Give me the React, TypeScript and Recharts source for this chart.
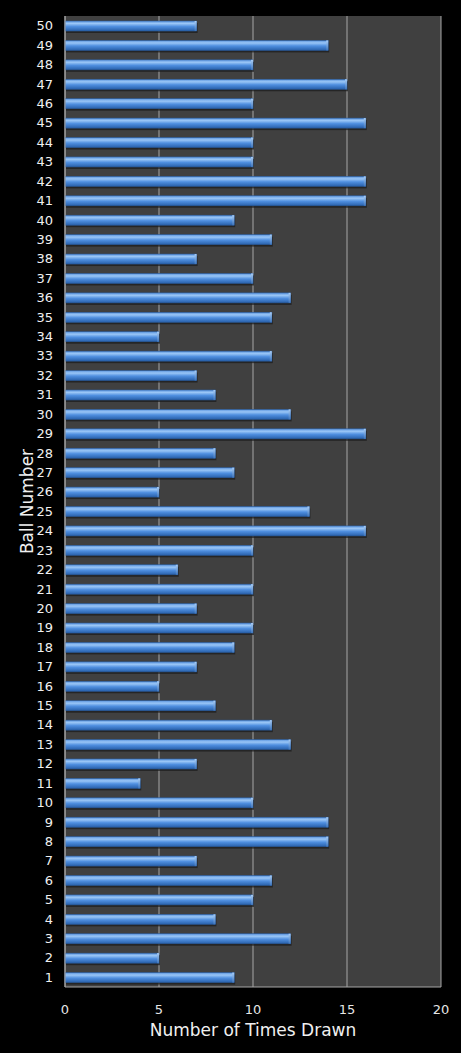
import { BarChart, Bar, XAxis, YAxis, CartesianGrid, Label } from 'recharts';

// Ball numbers 1..50 and how many times each was drawn
const balls = [
  1, 2, 3, 4, 5, 6, 7, 8, 9, 10, 11, 12, 13, 14, 15, 16, 17, 18, 19, 20, 21, 22, 23, 24, 25,
  26, 27, 28, 29, 30, 31, 32, 33, 34, 35, 36, 37, 38, 39, 40, 41, 42, 43, 44, 45, 46, 47, 48,
  49, 50,
];
const timesDrawn = [
  9, 5, 12, 8, 10, 11, 7, 14, 14, 10, 4, 7, 12, 11, 8, 5, 7, 9, 10, 7, 10, 6, 10, 16, 13, 5, 9,
  8, 16, 12, 8, 7, 11, 5, 11, 12, 10, 7, 11, 9, 16, 16, 10, 10, 16, 10, 15, 10, 14, 7,
];
const xTicks = [0, 5, 10, 15, 20];

const chartData = balls.map((b, i) => ({ ball: String(b), count: timesDrawn[i] }));

const font = '"DejaVu Sans", Verdana, sans-serif';

function TubeBar(props: any) {
  const { x, y, width, height } = props;
  if (!width || width <= 0) return null;
  return (
    <g>
      <rect x={x + 1} y={y + 2} width={width} height={height} fill="#1a1a1a" opacity={0.7} />
      <rect
        x={x}
        y={y}
        width={width}
        height={height}
        fill="url(#tube)"
        stroke="#2a5a99"
        strokeWidth={0.6}
      />
      <rect x={x + width - 2} y={y} width={2} height={height} fill="url(#cap)" />
    </g>
  );
}

export default function App() {
  return (
    <div style={{ position: 'absolute', left: 0, top: 0, width: 461, height: 1053, background: '#000' }}>
      <BarChart
        width={461}
        height={1053}
        data={chartData}
        layout="vertical"
        margin={{ top: 16, right: 20, bottom: 36, left: 0 }}
        barSize={10}
      >
        <defs>
          <linearGradient id="tube" x1="0" y1="0" x2="0" y2="1">
            <stop offset="0%" stopColor="#5a94de" />
            <stop offset="25%" stopColor="#9ac6f6" />
            <stop offset="55%" stopColor="#4f8fe0" />
            <stop offset="100%" stopColor="#2860aa" />
          </linearGradient>
          <linearGradient id="cap" x1="0" y1="0" x2="0" y2="1">
            <stop offset="0%" stopColor="#a9cdf5" />
            <stop offset="100%" stopColor="#3d75bd" />
          </linearGradient>
        </defs>
        <CartesianGrid horizontal={false} stroke="#a6a6a6" fill="#404040" />
        <XAxis
          type="number"
          domain={[0, 20]}
          ticks={xTicks}
          tickLine={false}
          axisLine={{ stroke: '#a6a6a6' }}
          tick={{ fill: '#e6e6e6', fontSize: 13, fontFamily: font }}
          tickMargin={12}
          height={30}
        >
          <Label
            value="Number of Times Drawn"
            position="bottom"
            offset={7}
            style={{ fill: '#f0f0f0', fontSize: 17, fontFamily: font }}
          />
        </XAxis>
        <YAxis
          type="category"
          dataKey="ball"
          reversed
          width={65}
          interval={0}
          tickLine={false}
          axisLine={{ stroke: '#a6a6a6' }}
          tick={{ fill: '#f0f0f0', fontSize: 13, fontFamily: font }}
          tickMargin={6}
        >
          <Label
            value="Ball Number"
            angle={-90}
            position="insideLeft"
            offset={27}
            style={{ fill: '#f0f0f0', fontSize: 17, fontFamily: font, textAnchor: 'middle' }}
          />
        </YAxis>
        <Bar dataKey="count" isAnimationActive={false} shape={<TubeBar />} />
      </BarChart>
    </div>
  );
}
